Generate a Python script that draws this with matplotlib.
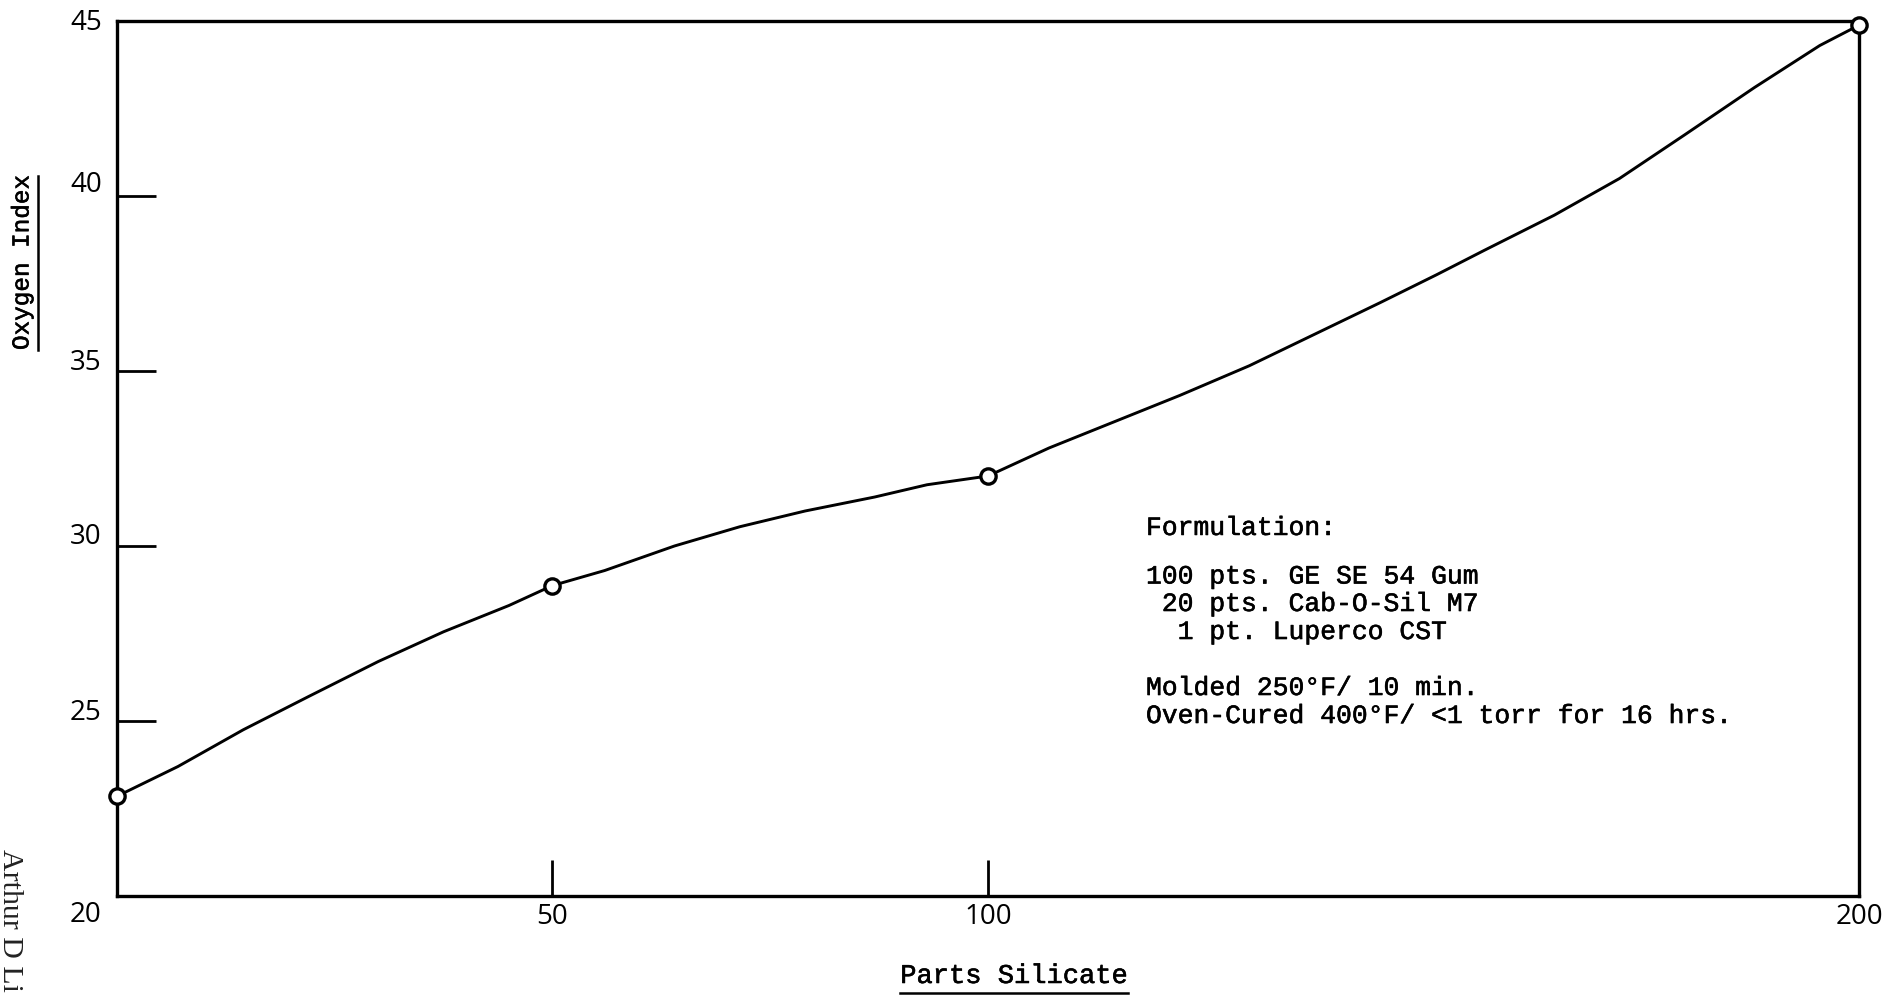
import matplotlib
matplotlib.use("Agg")
import matplotlib.pyplot as plt
import matplotlib.patheffects as pe
import matplotlib.transforms as mtransforms
from matplotlib.lines import Line2D

# measured points (parts silicate vs oxygen index)
point_x = [0, 50, 100, 200]
point_y = [22.85, 28.87, 32.0, 44.88]

# hand-drawn smooth curve
curve_x = [0, 7, 14.5, 22, 30, 37.5, 45, 50, 56, 64, 71.5, 79, 87, 93, 100,
           107, 114.5, 122, 130, 137.5, 145, 151.5, 157, 165, 172.5, 180, 188, 195.5, 200]
curve_y = [22.85, 23.7, 24.75, 25.7, 26.7, 27.55, 28.3, 28.87, 29.3, 30.0, 30.55, 31.0, 31.4, 31.75, 32.0,
           32.8, 33.55, 34.3, 35.15, 36.05, 36.95, 37.75, 38.45, 39.45, 40.5, 41.75, 43.1, 44.3, 44.88]

x_ticks = [50, 100, 200]
y_ticks = [20, 25, 30, 35, 40, 45]

note_lines = [
    "Formulation:",
    "100 pts. GE SE 54 Gum",
    " 20 pts. Cab-O-Sil M7",
    "  1 pt. Luperco CST",
    "Molded 250°F/ 10 min.",
    "Oven-Cured 400°F/ <1 torr for 16 hrs.",
]

W, H = 1899, 1001
mono = ["Liberation Mono", "DejaVu Sans Mono"]
label_font = ["Liberation Sans Narrow", "Open Sans", "DejaVu Sans"]
ink = [pe.withStroke(linewidth=0.4, foreground="black")]

fig = plt.figure(figsize=(W / 100, H / 100), dpi=100)
ax = fig.add_axes([117 / W, 1 - 896 / H, 1742 / W, 875 / H])

ax.plot(curve_x, curve_y, color="black", lw=2.1, clip_on=False, zorder=3)
ax.plot(point_x, point_y, "o", ms=11, mfc="white", mec="black", mew=2.4,
        clip_on=False, zorder=4)

ax.set_xlim(0, 200)
ax.set_ylim(20, 45)
for s in ax.spines.values():
    s.set_linewidth(2.4)

ax.set_xticks(x_ticks)
ax.set_yticks(y_ticks)
ax.set_xticklabels([str(v) for v in x_ticks], fontfamily=label_font, fontsize=20)
ax.set_yticklabels([str(v) for v in y_ticks], fontfamily=label_font, fontsize=20)
ax.tick_params(axis="x", direction="in", length=26, width=2.0, pad=5)
ax.tick_params(axis="y", direction="in", length=28, width=2.0, pad=11)

# y labels sit a little off their tick marks in the original
y_label_shift_px = [-15, 12, 12, 12, 14, 2]
for lab, dy in zip(ax.get_yticklabels(), y_label_shift_px):
    lab.set_transform(lab.get_transform() +
                      mtransforms.ScaledTranslation(0, dy / 100, fig.dpi_scale_trans))

note_y = [0.4206, 0.3651, 0.3337, 0.3017, 0.2377, 0.2057]
for line, yy in zip(note_lines, note_y):
    ax.text(0.5907, yy, line, transform=ax.transAxes, ha="left", va="center",
            fontfamily=mono, fontsize=19, path_effects=ink)

xlab = fig.text(1014 / W, 1 - 976 / H, "Parts Silicate", ha="center", va="center",
                fontfamily=mono, fontsize=19.5, path_effects=ink)
ylab = fig.text(22 / W, 1 - 263 / H, "Oxygen Index", ha="center", va="center",
                rotation=90, fontfamily=mono, fontsize=17.5, path_effects=ink)
fig.text(10 / W, 1 - 849 / H, "Arthur D Li", ha="center", va="top", rotation=-90,
         fontfamily=["Liberation Serif", "DejaVu Serif"], fontsize=21.5, color="#222222")

fig.canvas.draw()
inv = fig.transFigure.inverted()
r = fig.canvas.get_renderer()

bb = xlab.get_window_extent(r)
(x0, y0), (x1, _) = inv.transform([(bb.x0, bb.y0 - 4), (bb.x1, bb.y0 - 4)])
fig.add_artist(Line2D([x0, x1], [y0, y0], color="black", lw=1.8, transform=fig.transFigure))

bb = ylab.get_window_extent(r)
(x0, y0), (_, y1) = inv.transform([(bb.x1 + 4, bb.y0), (bb.x1 + 4, bb.y1)])
fig.add_artist(Line2D([x0, x0], [y0, y1], color="black", lw=1.8, transform=fig.transFigure))

fig.savefig("out.png", dpi=100)
